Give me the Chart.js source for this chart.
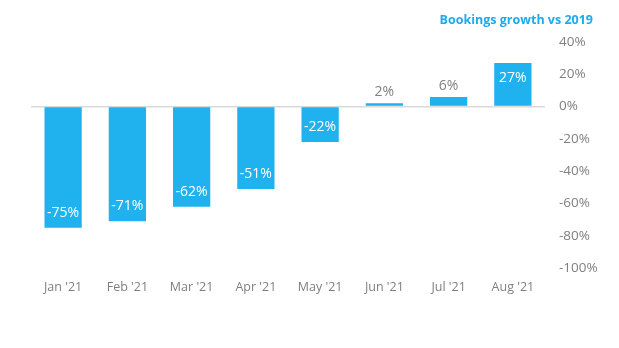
<!DOCTYPE html>
<html>
  <head>
    <meta charset="utf-8">
    <title>Bookings growth vs 2019</title>
    <style>
      body { margin: 0; background: #fff; }
      .wrap { position: relative; width: 619px; height: 348px; }
      .titulo {
        position: absolute; right: 26px; top: 11px;
        font: bold 12.5px "Open Sans", sans-serif; color: #1fa9ef;
      }
    </style>
  </head>
  <body>
    <div class="wrap">
      <div class="titulo">Bookings growth vs 2019</div>
      <canvas id="chart1" width="619" height="348"></canvas>
    </div>

    <script src="https://cdn.jsdelivr.net/npm/chart.js@4/dist/chart.umd.min.js"></script>
    <script>
      // datos
      var meses = ["Jan '21", "Feb '21", "Mar '21", "Apr '21", "May '21", "Jun '21", "Jul '21", "Aug '21"]
      var crecimiento = [-75, -71, -62, -51, -22, 2, 6, 27]
      var ticksY = [40, 20, 0, -20, -40, -60, -80, -100]

      var azul = '#1fb2ee'
      var gris = '#7f7f7f'

      // etiquetas de valor
      var etiquetas = {
        id: 'etiquetas',
        afterDatasetsDraw: function (chart) {
          var ctx = chart.ctx
          var meta = chart.getDatasetMeta(0)
          ctx.save()
          ctx.font = '14px "Open Sans", sans-serif'
          ctx.textAlign = 'center'
          ctx.textBaseline = 'middle'
          meta.data.forEach(function (bar, i) {
            var v = crecimiento[i]
            var dir = v >= 0 ? 1 : -1
            var y
            if (Math.abs(v) >= 10) {
              ctx.fillStyle = '#ffffff'
              y = bar.y + dir * 15
            } else {
              ctx.fillStyle = gris
              y = bar.y - dir * 11
            }
            ctx.fillText(v + '%', bar.x, y)
          })
          ctx.restore()
        }
      }

      var ctx = document.getElementById('chart1').getContext('2d')
      var chart1 = new Chart(ctx, {
        type: 'bar',
        data: {
          labels: meses,
          datasets: [{
            data: crecimiento,
            backgroundColor: azul,
            barPercentage: 0.58,
            categoryPercentage: 1
          }]
        },
        options: {
          responsive: false,
          animation: false,
          layout: { padding: { left: 31, right: 0, top: 42, bottom: 35 } },
          plugins: {
            legend: { display: false },
            tooltip: { enabled: false }
          },
          scales: {
            x: {
              grid: { display: false },
              border: { display: false },
              ticks: {
                color: gris,
                font: { family: 'Open Sans', size: 12.5 },
                padding: 4
              },
              afterFit: function (scale) { scale.height = 45 }
            },
            y: {
              position: 'right',
              min: -100,
              max: 40,
              afterBuildTicks: function (scale) {
                scale.ticks = ticksY.map(function (v) { return { value: v } })
              },
              grid: {
                drawTicks: false,
                color: function (c) { return c.tick && c.tick.value === 0 ? '#d9d9d9' : 'rgba(0,0,0,0)' },
                lineWidth: 1.5
              },
              border: { display: false },
              ticks: {
                color: gris,
                font: { family: 'Open Sans', size: 13.5 },
                padding: 14,
                callback: function (v) { return v + '%' }
              },
              afterFit: function (scale) { scale.width = 74 }
            }
          }
        },
        plugins: [etiquetas]
      })
    </script>
  </body>
</html>
